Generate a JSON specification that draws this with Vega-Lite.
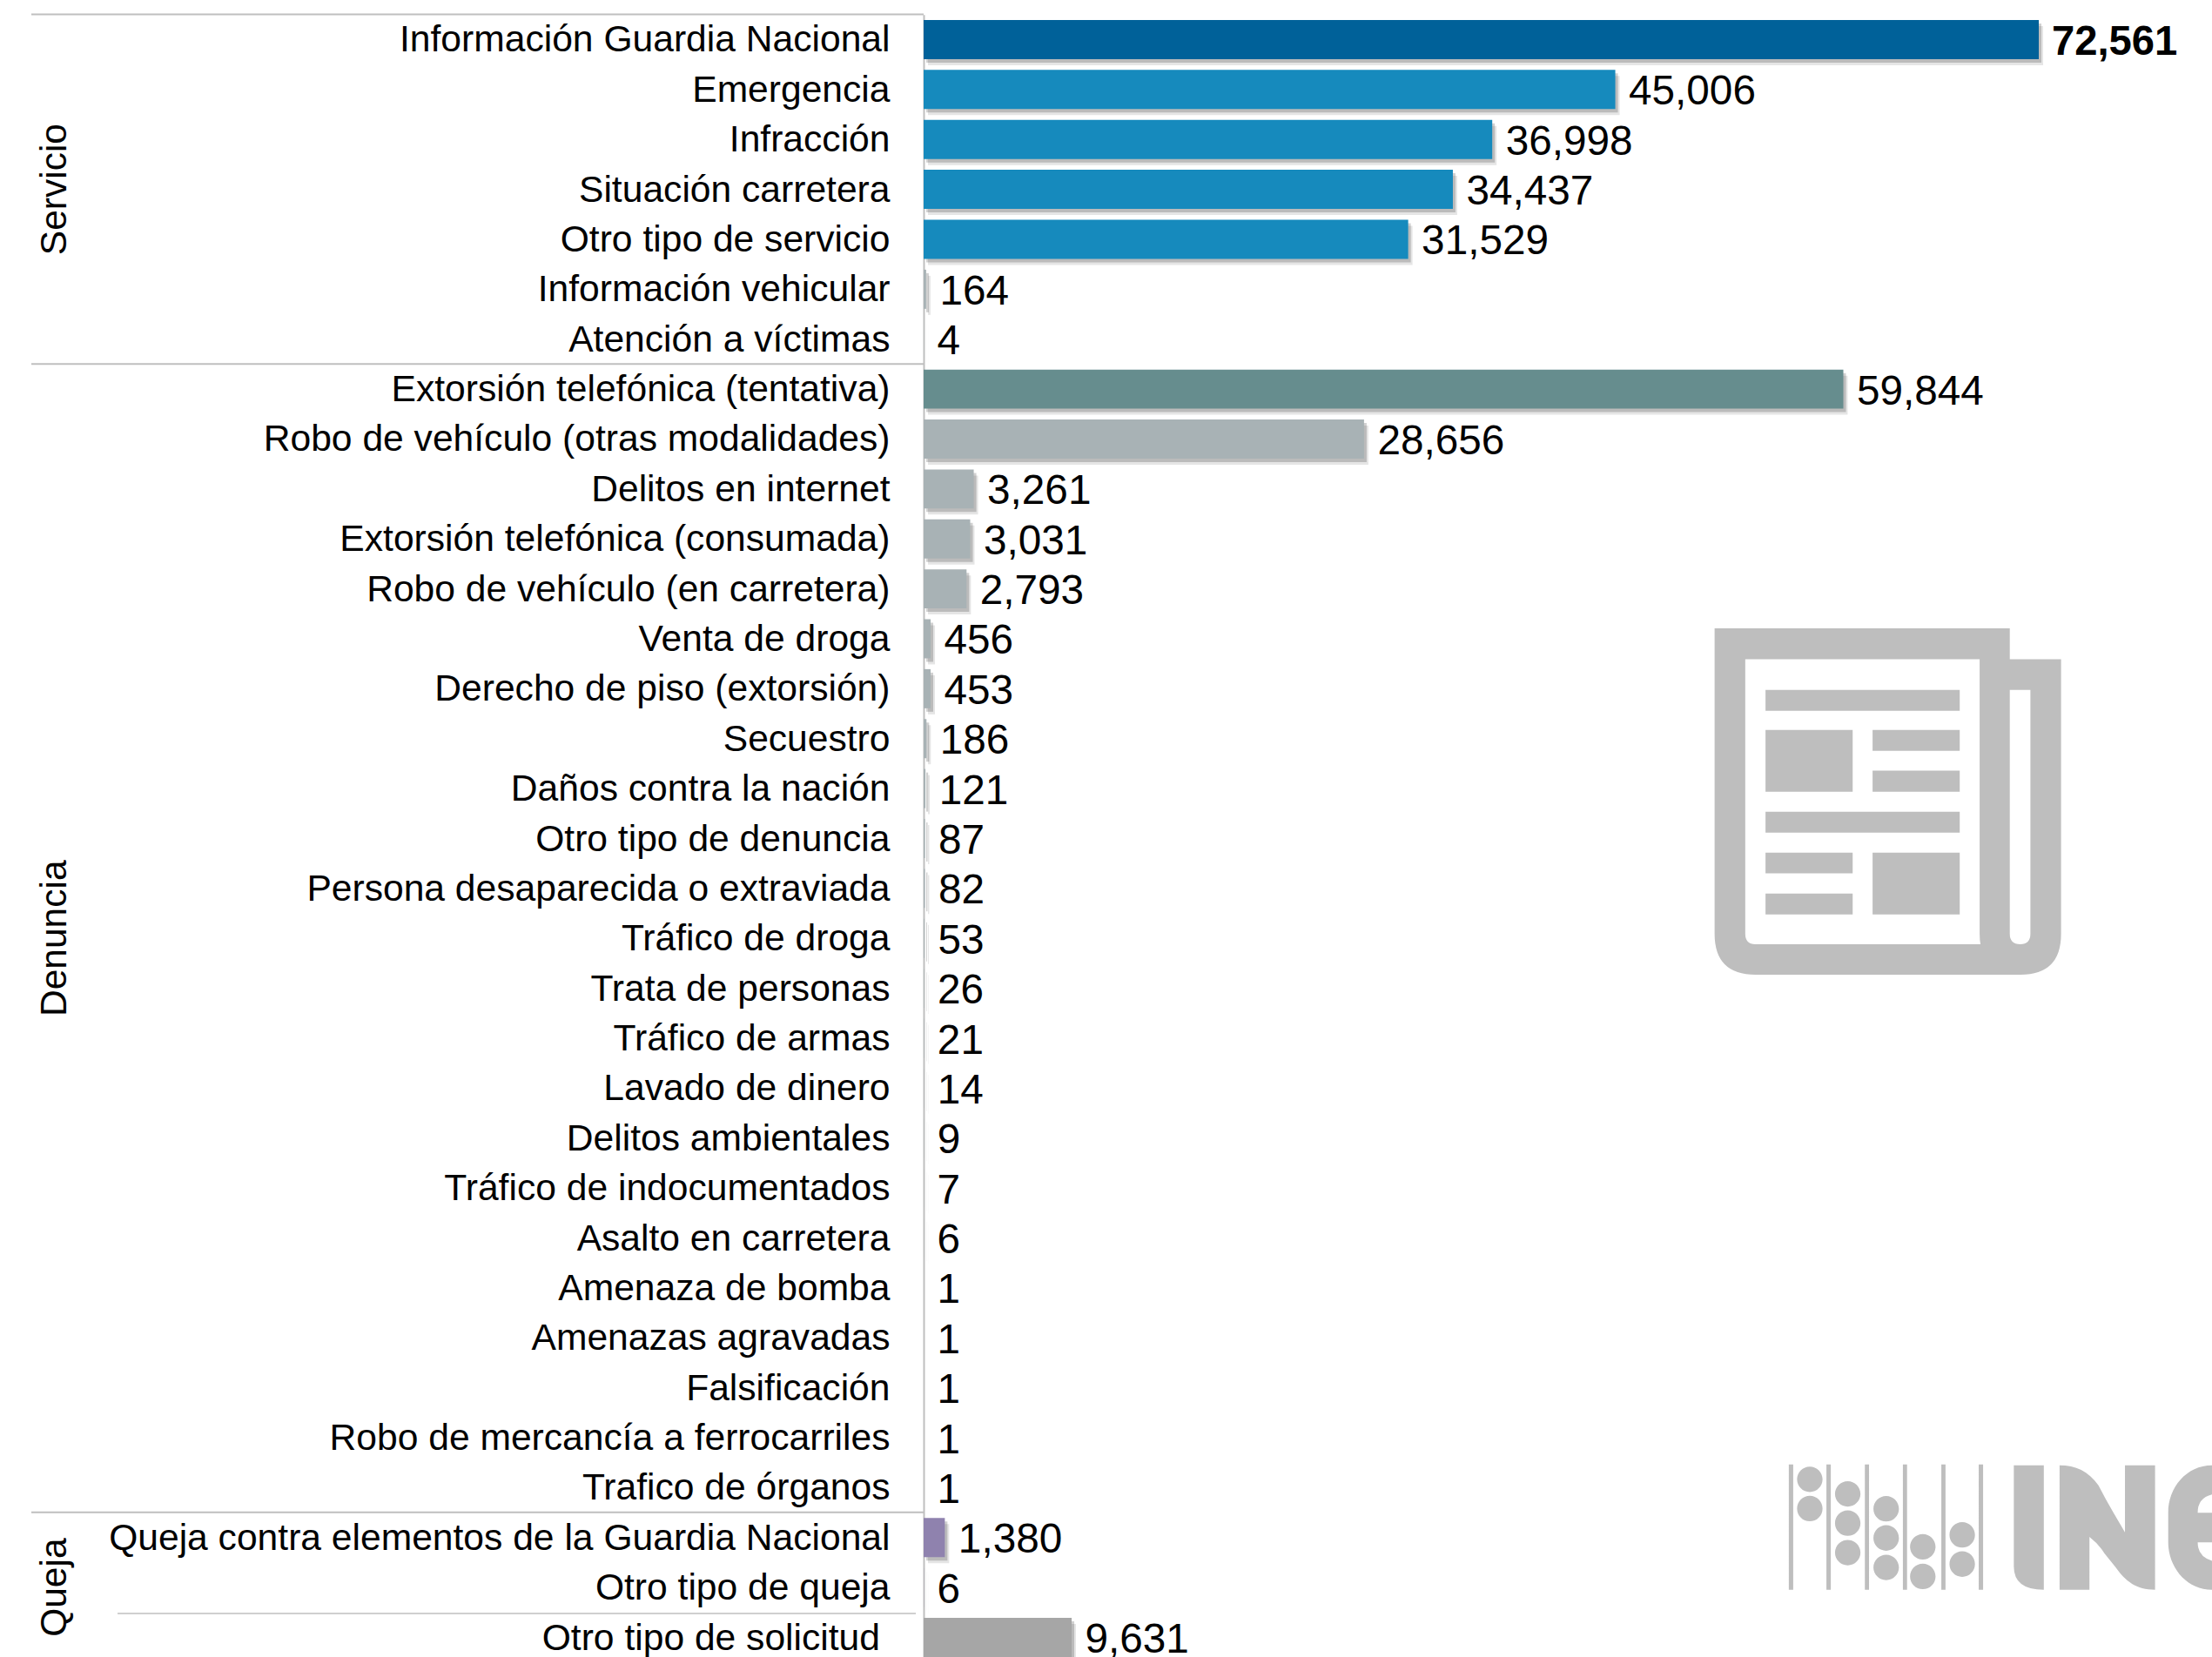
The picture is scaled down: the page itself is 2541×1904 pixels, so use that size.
{"$schema":"https://vega.github.io/schema/vega-lite/v6.json","autosize":"none","padding":{"left":1061,"top":16.8,"right":0,"bottom":0},"width":1480,"height":1887.2,"background":"white","config":{"view":{"stroke":null},"font":"Liberation Sans"},"datasets":{"filas":[
{"tipo":"Información Guardia Nacional","valor":72561,"tono":"destacado"},
{"tipo":"Emergencia","valor":45006,"tono":"servicio"},
{"tipo":"Infracción","valor":36998,"tono":"servicio"},
{"tipo":"Situación carretera","valor":34437,"tono":"servicio"},
{"tipo":"Otro tipo de servicio","valor":31529,"tono":"servicio"},
{"tipo":"Información vehicular","valor":164,"tono":"denuncia"},
{"tipo":"Atención a víctimas","valor":4,"tono":"denuncia"},
{"tipo":"Extorsión telefónica (tentativa)","valor":59844,"tono":"tentativa"},
{"tipo":"Robo de vehículo (otras modalidades)","valor":28656,"tono":"denuncia"},
{"tipo":"Delitos en internet","valor":3261,"tono":"denuncia"},
{"tipo":"Extorsión telefónica (consumada)","valor":3031,"tono":"denuncia"},
{"tipo":"Robo de vehículo (en carretera)","valor":2793,"tono":"denuncia"},
{"tipo":"Venta de droga","valor":456,"tono":"denuncia"},
{"tipo":"Derecho de piso (extorsión)","valor":453,"tono":"denuncia"},
{"tipo":"Secuestro","valor":186,"tono":"denuncia"},
{"tipo":"Daños contra la nación","valor":121,"tono":"denuncia"},
{"tipo":"Otro tipo de denuncia","valor":87,"tono":"denuncia"},
{"tipo":"Persona desaparecida o extraviada","valor":82,"tono":"denuncia"},
{"tipo":"Tráfico de droga","valor":53,"tono":"denuncia"},
{"tipo":"Trata de personas","valor":26,"tono":"denuncia"},
{"tipo":"Tráfico de armas","valor":21,"tono":"denuncia"},
{"tipo":"Lavado de dinero","valor":14,"tono":"denuncia"},
{"tipo":"Delitos ambientales","valor":9,"tono":"denuncia"},
{"tipo":"Tráfico de indocumentados","valor":7,"tono":"denuncia"},
{"tipo":"Asalto en carretera","valor":6,"tono":"denuncia"},
{"tipo":"Amenaza de bomba","valor":1,"tono":"denuncia"},
{"tipo":"Amenazas agravadas","valor":1,"tono":"denuncia"},
{"tipo":"Falsificación","valor":1,"tono":"denuncia"},
{"tipo":"Robo de mercancía a ferrocarriles","valor":1,"tono":"denuncia"},
{"tipo":"Trafico de órganos","valor":1,"tono":"denuncia"},
{"tipo":"Queja contra elementos de la Guardia Nacional","valor":1380,"tono":"queja"},
{"tipo":"Otro tipo de queja","valor":6,"tono":"queja"},
{"tipo":"Otro tipo de solicitud","valor":9631,"tono":"solicitud"}
]},"data":{"name":"filas"},
"encoding":{"y":{"field":"tipo","type":"nominal","sort":null,"title":null,"scale":{"range":[0,1893.4],"paddingInner":0.216,"paddingOuter":0.108,"domain":["Información Guardia Nacional","Emergencia","Infracción","Situación carretera","Otro tipo de servicio","Información vehicular","Atención a víctimas","Extorsión telefónica (tentativa)","Robo de vehículo (otras modalidades)","Delitos en internet","Extorsión telefónica (consumada)","Robo de vehículo (en carretera)","Venta de droga","Derecho de piso (extorsión)","Secuestro","Daños contra la nación","Otro tipo de denuncia","Persona desaparecida o extraviada","Tráfico de droga","Trata de personas","Tráfico de armas","Lavado de dinero","Delitos ambientales","Tráfico de indocumentados","Asalto en carretera","Amenaza de bomba","Amenazas agravadas","Falsificación","Robo de mercancía a ferrocarriles","Trafico de órganos","Queja contra elementos de la Guardia Nacional","Otro tipo de queja","Otro tipo de solicitud"]},"axis":{"domain":true,"domainColor":"#BFBFBF","domainWidth":2,"ticks":false,"labelPadding":39,"labelOffset":1,"labelFont":"Liberation Sans","labelFontSize":42.6,"labelColor":"#000000","labelLimit":1100,"labelOverlap":false,"labelExpr":"datum.label == 'Otro tipo de solicitud' ? '' : datum.label"}}},
"layer":[
{"mark":{"type":"bar","color":"#000000","opacity":0.1,"xOffset":5,"yOffset":7},"encoding":{"x":{"field":"valor","type":"quantitative","axis":null,"scale":{"domain":[0,83833],"nice":false,"zero":false}}}},
{"mark":{"type":"bar","color":"#000000","opacity":0.18,"xOffset":3,"yOffset":4},"encoding":{"x":{"field":"valor","type":"quantitative"}}},
{"mark":{"type":"bar"},"encoding":{"x":{"field":"valor","type":"quantitative"},"color":{"field":"tono","type":"nominal","legend":null,"scale":{"domain":["destacado","servicio","tentativa","denuncia","queja","solicitud"],"range":["#006199","#168ABD","#668D8E","#A8B2B5","#8F82AE","#A6A6A6"]}}}},
{"transform":[{"filter":"datum.tono != 'destacado'"}],"mark":{"type":"text","align":"left","baseline":"middle","dx":15.5,"dy":3.5,"fontSize":47.7,"font":"Liberation Sans","color":"#000000"},"encoding":{"x":{"field":"valor","type":"quantitative"},"text":{"field":"valor","type":"quantitative","format":","}}},
{"transform":[{"filter":"datum.tono == 'destacado'"}],"mark":{"type":"text","align":"left","baseline":"middle","dx":15,"dy":3.5,"fontSize":47.2,"fontWeight":"bold","font":"Liberation Sans","color":"#000000"},"encoding":{"x":{"field":"valor","type":"quantitative"},"text":{"field":"valor","type":"quantitative","format":","}}},
{"data":{"values":[{"etiqueta":"Otro tipo de solicitud","tipo":"Otro tipo de solicitud"}]},"mark":{"type":"text","align":"right","baseline":"middle","dy":1,"fontSize":42.6,"font":"Liberation Sans","color":"#000000"},"encoding":{"x":{"datum":-2832},"text":{"field":"etiqueta"}}},
{"data":{"values":[{"grupo":"Servicio","tipo":"Situación carretera"},{"grupo":"Denuncia","tipo":"Tráfico de droga"},{"grupo":"Queja","tipo":"Otro tipo de queja"}]},"mark":{"type":"text","angle":270,"align":"center","baseline":"middle","fontSize":42.5,"font":"Liberation Sans","color":"#000000"},"encoding":{"x":{"datum":-56543},"text":{"field":"grupo"}}},
{"data":{"values":[{"tipo":"Información Guardia Nacional"},{"tipo":"Extorsión telefónica (tentativa)"},{"tipo":"Queja contra elementos de la Guardia Nacional"}]},"mark":{"type":"rule","color":"#BFBFBF","strokeWidth":2,"yOffset":-6.5},"encoding":{"x":{"datum":-58060},"x2":{"datum":0},"y":{"field":"tipo","type":"nominal","bandPosition":0}}},
{"data":{"values":[{"tipo":"Otro tipo de solicitud"}]},"mark":{"type":"rule","color":"#BFBFBF","strokeWidth":1.5,"yOffset":-5},"encoding":{"x":{"datum":-52450},"x2":{"datum":-510},"y":{"field":"tipo","type":"nominal","bandPosition":0}}},
{"data":{"values":[{"tipo":"Daños contra la nación"}]},"mark":{"type":"point","filled":true,"opacity":1,"color":"#BEBEBE","yOffset":14.9,"size":158404,"shape":"M-1 -1L.704 -1L.704 -.822L1 -.822L1 .764Q1 1 .766 1L-.764 1Q-1 1 -1 .764ZM-.823 -.822L-.823 .764Q-.823 .824 -.765 .824L.535 .824Q.53 .8 .53 .764L.53 -.822ZM.704 -.645L.704 .764Q.704 .824 .764 .824Q.823 .824 .823 .764L.823 -.645ZM-.706 -.645L.415 -.645L.415 -.524L-.706 -.524ZM-.706 -.414L-.203 -.414L-.203 -.057L-.706 -.057ZM-.088 -.414L.415 -.414L.415 -.293L-.088 -.293ZM-.088 -.178L.415 -.178L.415 -.057L-.088 -.057ZM-.706 .059L.415 .059L.415 .179L-.706 .179ZM-.706 .295L-.203 .295L-.203 .415L-.706 .415ZM-.088 .295L.415 .295L.415 .652L-.088 .652ZM-.706 .531L-.203 .531L-.203 .652L-.706 .652Z"},"encoding":{"x":{"datum":62740}}},
{"data":{"values":[{"tipo":"Queja contra elementos de la Guardia Nacional"}]},"mark":{"type":"point","filled":true,"opacity":1,"color":"#BEBEBE","yOffset":-11.75,"size":230400,"shape":"M-1.013 -.301L-.992 -.301L-.992 .299L-1.013 .299ZM-.833 -.301L-.812 -.301L-.812 .299L-.833 .299ZM-.649 -.301L-.629 -.301L-.629 .299L-.649 .299ZM-.467 -.301L-.447 -.301L-.447 .299L-.467 .299ZM-.283 -.301L-.263 -.301L-.263 .299L-.283 .299ZM-.104 -.301L-.083 -.301L-.083 .299L-.104 .299ZM-.9735 -.23a.061 .061 0 1 0 .122 0a.061 .061 0 1 0 -.122 0ZM-.9735 -.09a.061 .061 0 1 0 .122 0a.061 .061 0 1 0 -.122 0ZM-.792 -.16a.061 .061 0 1 0 .122 0a.061 .061 0 1 0 -.122 0ZM-.792 -.02a.061 .061 0 1 0 .122 0a.061 .061 0 1 0 -.122 0ZM-.792 .121a.061 .061 0 1 0 .122 0a.061 .061 0 1 0 -.122 0ZM-.608 -.089a.061 .061 0 1 0 .122 0a.061 .061 0 1 0 -.122 0ZM-.608 .051a.061 .061 0 1 0 .122 0a.061 .061 0 1 0 -.122 0ZM-.608 .192a.061 .061 0 1 0 .122 0a.061 .061 0 1 0 -.122 0ZM-.4327 .093a.061 .061 0 1 0 .122 0a.061 .061 0 1 0 -.122 0ZM-.4327 .235a.061 .061 0 1 0 .122 0a.061 .061 0 1 0 -.122 0ZM-.244 .036a.061 .061 0 1 0 .122 0a.061 .061 0 1 0 -.122 0ZM-.244 .176a.061 .061 0 1 0 .122 0a.061 .061 0 1 0 -.122 0ZM.064 -.297L.2075 -.297L.2075 .299Q.064 .299 .064 .1875ZM.283 -.297C.36 -.297 .42 -.27 .469 -.201Q.5 -.14 .541 -.07L.596 .024L.596 -.297L.74 -.297L.74 .299C.65 .299 .6 .26 .55 .19L.498 .125Q.47 .08 .426 .046L.426 .299L.283 .299ZM1.0125 -.297C.89 -.297 .803 -.19 .803 -.07L.803 .072C.803 .19 .89 .299 1.0125 .299L1.06 .299L1.06 .16L1.0125 .16Q.944 .14 .944 .072L1.06 .072L1.06 -.07L.944 -.07Q.944 -.14 1.0125 -.157L1.06 -.157L1.06 -.297Z"},"encoding":{"x":{"datum":70068}}}
]}
